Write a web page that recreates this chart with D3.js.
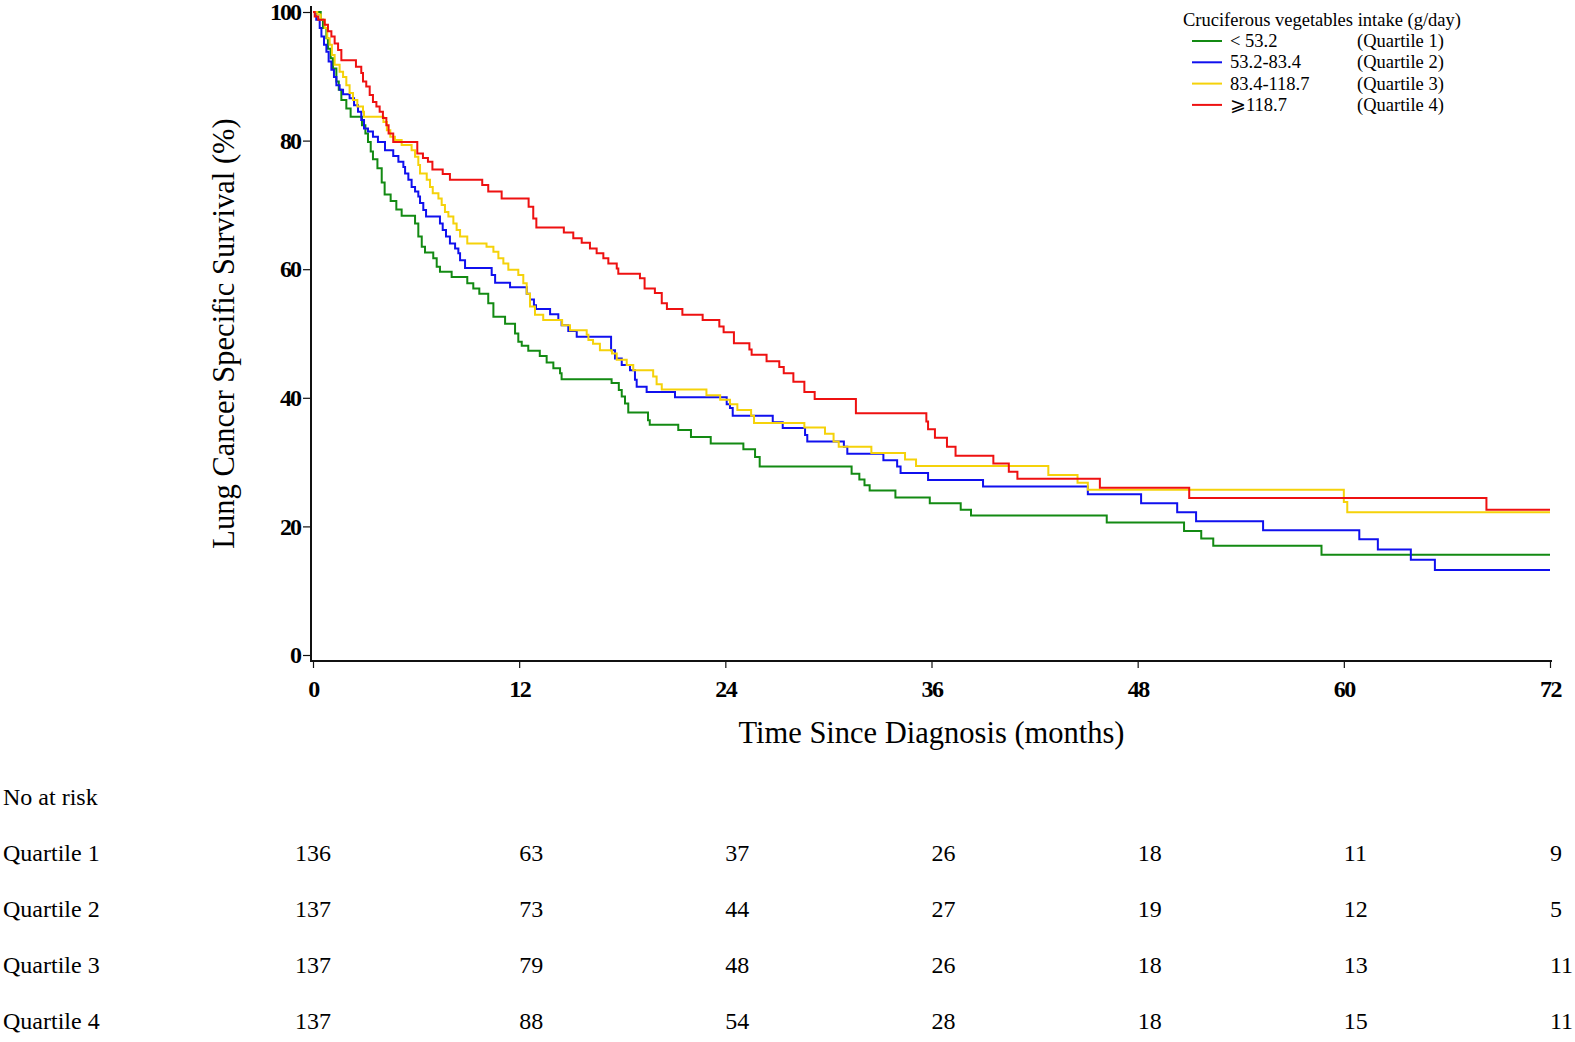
<!DOCTYPE html>
<html>
<head>
<meta charset="utf-8">
<script src="https://d3js.org/d3.v7.min.js"></script>
<style>
  body { margin: 0; background: #fff; }
  svg { display: block; }
</style>
</head>
<body>
<svg id="km" width="1575" height="1042"></svg>
<script>
// step points [month, survival %]
var q1 = [[0,100],[0.45,98.8],[0.58,97.5],[0.78,95.9],[0.87,94.3],[1.03,92.8],[1.16,91.2],[1.36,89.2],[1.5,87.9],[1.65,86.3],[1.94,85.0],[2.19,83.7],[2.85,82.4],[3.05,81.1],[3.2,79.8],[3.36,78.3],[3.49,77.1],[3.75,75.7],[4.0,73.5],[4.17,71.6],[4.52,70.6],[4.85,69.3],[5.16,68.3],[5.94,67.1],[6.13,65.1],[6.33,63.5],[6.52,62.6],[7.0,61.7],[7.2,60.4],[7.39,59.6],[8.07,58.8],[8.98,57.8],[9.33,57.0],[9.68,56.2],[10.2,54.7],[10.5,52.6],[11.18,51.5],[11.76,50.0],[11.95,48.7],[12.15,48.1],[12.53,47.3],[13.2,46.5],[13.6,45.5],[13.99,44.6],[14.38,43.8],[14.47,42.9],[17.38,42.3],[17.8,41.2],[17.97,40.2],[18.16,39.1],[18.35,37.7],[19.5,36.5],[19.6,35.8],[21.26,35.0],[22.0,33.9],[23.15,32.9],[25.05,32.0],[25.73,30.8],[26.0,29.3],[31.35,28.2],[31.8,27.3],[32.1,26.4],[32.4,25.6],[33.9,24.5],[35.9,23.6],[37.7,22.6],[38.3,21.7],[46.2,20.6],[50.7,19.3],[51.7,18.1],[52.4,17.0],[58.7,15.6],[72,15.6]];

var q2 = [[0,100],[0.19,98.8],[0.39,97.5],[0.49,96.2],[0.64,94.9],[0.78,93.8],[0.91,92.3],[1.07,91.0],[1.22,89.9],[1.36,88.6],[1.55,87.9],[1.75,87.2],[2.13,86.6],[2.39,85.5],[2.62,84.5],[2.81,83.2],[2.97,81.9],[3.2,81.4],[3.49,80.6],[3.78,79.8],[4.19,78.5],[4.67,77.6],[4.97,76.7],[5.26,75.9],[5.36,74.9],[5.55,73.9],[5.74,72.8],[5.94,72.1],[6.13,71.3],[6.23,70.3],[6.42,69.2],[6.58,68.2],[7.39,67.1],[7.55,66.1],[7.74,65.1],[7.97,64.0],[8.27,63.2],[8.46,62.5],[8.56,61.4],[8.85,60.2],[10.4,59.1],[10.6,57.9],[11.47,57.2],[12.44,56.2],[12.63,55.3],[12.86,54.4],[12.98,53.8],[13.8,53.0],[14.28,52.1],[14.47,51.3],[14.86,50.4],[15.35,49.5],[17.35,47.4],[17.58,46.1],[17.97,45.1],[18.45,44.3],[18.74,42.8],[18.84,41.7],[19.42,40.9],[21.07,40.1],[24.08,39.0],[24.27,38.4],[24.43,37.2],[26.76,36.2],[27.34,35.3],[28.64,34.2],[28.77,33.2],[30.9,32.4],[31.1,31.3],[33.2,30.3],[34.0,29.3],[34.2,28.3],[35.8,27.2],[39.0,26.2],[45.1,25.0],[48.2,23.6],[50.3,22.2],[51.4,20.8],[55.3,19.4],[60.9,18.0],[61.98,16.4],[63.9,14.8],[65.3,13.2],[72,13.2]];

var q3 = [[0,100],[0.25,99.6],[0.45,98.8],[0.68,97.5],[0.83,95.9],[0.97,94.9],[1.1,93.3],[1.26,91.8],[1.55,90.7],[1.75,89.9],[1.94,88.6],[2.13,87.4],[2.33,86.3],[2.58,85.3],[2.91,84.5],[2.97,83.7],[4.1,82.9],[4.3,81.6],[4.5,80.6],[4.77,80.1],[5.16,79.3],[5.74,78.5],[5.94,77.5],[6.13,76.2],[6.23,74.9],[6.62,73.9],[6.81,72.8],[6.97,71.8],[7.3,71.0],[7.49,70.0],[7.68,68.9],[7.88,68.2],[8.17,67.1],[8.36,66.1],[8.56,65.1],[8.98,64.0],[10.1,63.5],[10.5,62.7],[10.79,61.7],[11.08,60.9],[11.37,59.9],[11.95,59.1],[12.24,57.8],[12.44,56.2],[12.63,54.2],[12.92,52.9],[13.4,52.1],[14.5,51.3],[14.96,50.5],[15.93,49.8],[16.03,49.0],[16.3,48.4],[16.7,47.4],[17.4,46.9],[17.68,45.9],[18.26,45.1],[18.64,44.3],[19.8,43.3],[20.0,42.1],[20.3,41.3],[22.9,40.4],[23.7,39.7],[24.27,39.0],[24.7,38.1],[25.5,37.2],[25.67,36.1],[28.6,35.4],[29.8,34.4],[30.3,33.2],[30.6,32.4],[32.5,31.4],[34.46,30.4],[35.1,29.4],[42.8,28.0],[44.5,26.8],[45.1,25.7],[60.0,23.8],[60.2,22.2],[72,22.2]];

var q4 = [[0,100],[0.1,99.3],[0.3,98.8],[0.68,98.0],[0.87,97.0],[1.07,96.2],[1.26,95.1],[1.46,94.1],[1.65,92.5],[2.5,91.5],[2.81,90.5],[2.91,89.2],[3.1,88.4],[3.3,87.1],[3.49,86.0],[3.69,85.3],[3.88,84.5],[4.07,83.5],[4.27,82.4],[4.4,81.1],[4.67,79.8],[6.07,78.0],[6.4,77.3],[6.69,76.7],[6.95,75.5],[7.55,74.8],[7.97,73.9],[9.85,73.1],[10.2,72.1],[10.98,71.0],[12.55,69.7],[12.82,67.9],[13.0,66.5],[14.6,65.7],[15.15,64.8],[15.64,64.1],[16.12,63.2],[16.51,62.5],[16.9,61.7],[17.19,60.9],[17.68,60.1],[17.77,59.3],[19.03,58.6],[19.3,57.0],[19.9,56.3],[20.3,54.7],[20.6,53.8],[21.5,52.9],[22.68,52.1],[23.65,51.1],[23.9,50.2],[24.5,48.5],[25.4,47.5],[25.53,46.7],[26.4,45.7],[27.14,44.8],[27.4,43.8],[27.96,42.5],[28.6,40.9],[29.2,39.8],[31.6,37.6],[35.7,36.3],[35.8,35.1],[36.2,33.8],[36.9,32.4],[37.4,31.0],[39.6,29.8],[40.5,28.5],[41.0,27.4],[45.8,26.0],[51.0,24.4],[68.3,22.6],[72,22.6]];

var groups = ["Quartile 1", "Quartile 2", "Quartile 3", "Quartile 4"];
var ranges = ["< 53.2", "53.2-83.4", "83.4-118.7", "\u2A7E118.7"];
var colors = ["#138a13", "#1010ee", "#f5d20a", "#ee1111"];

var monthTicks = [0, 12, 24, 36, 48, 60, 72];
var survTicks = [0, 20, 40, 60, 80, 100];

var riskQ1 = [136, 63, 37, 26, 18, 11, 9];
var riskQ2 = [137, 73, 44, 27, 19, 12, 5];
var riskQ3 = [137, 79, 48, 26, 18, 13, 11];
var riskQ4 = [137, 88, 54, 28, 18, 15, 11];

var svg = d3.select("#km"),
    serif = "'Liberation Serif', 'Times New Roman', serif",
    axisY = 661;

var x = d3.scaleLinear().domain([0, 72]).range([313, 1550]);
var y = d3.scaleLinear().domain([0, 100]).range([655, 12]);

var xAxis = d3.axisBottom(x).tickValues(monthTicks).tickSize(7).tickSizeOuter(0);
var yAxis = d3.axisLeft(y).tickValues(survTicks).tickSize(8).tickSizeOuter(0);

svg.append("g")
    .attr("transform", "translate(0," + axisY + ")")
    .call(customXAxis);

svg.append("g")
    .attr("transform", "translate(311,0)")
    .call(customYAxis);

function customXAxis(g) {
  g.call(xAxis);
  g.select(".domain").remove();
  g.append("line")
      .attr("x1", 311).attr("x2", x(72) + 2)
      .attr("stroke", "#111").attr("stroke-width", 2);
  g.selectAll(".tick line").attr("stroke", "#111").attr("stroke-width", 1.2);
  g.selectAll(".tick text")
      .attr("y", 19).attr("fill", "#000")
      .attr("font-family", serif).attr("font-size", 24).attr("font-weight", "bold")
      .attr("letter-spacing", "-1.5");
}

function customYAxis(g) {
  g.call(yAxis);
  g.select(".domain").remove();
  g.append("line")
      .attr("y1", y(100) - 6).attr("y2", axisY + 1)
      .attr("stroke", "#111").attr("stroke-width", 2);
  g.selectAll(".tick line").attr("stroke", "#111").attr("stroke-width", 1.2);
  g.selectAll(".tick text")
      .attr("x", -11).attr("fill", "#000")
      .attr("font-family", serif).attr("font-size", 24).attr("font-weight", "bold")
      .attr("letter-spacing", "-2")
      .style("text-anchor", "end");
}

// axis titles
svg.append("text")
    .attr("x", x(36)).attr("y", 743)
    .attr("text-anchor", "middle")
    .attr("font-family", serif).attr("font-size", 30.5)
    .text("Time Since Diagnosis (months)");

svg.append("text")
    .attr("transform", "translate(234," + y(50) + ") rotate(-90)")
    .attr("text-anchor", "middle")
    .attr("font-family", serif).attr("font-size", 30.5)
    .text("Lung Cancer Specific Survival (%)");

// survival curves
var line = d3.line()
    .curve(d3.curveStepAfter)
    .x(function(d) { return x(d[0]); })
    .y(function(d) { return y(d[1]); });

svg.selectAll("path.km")
    .data([q1, q2, q3, q4])
  .enter().append("path")
    .attr("class", "km")
    .attr("fill", "none")
    .attr("stroke", function(d, i) { return colors[i]; })
    .attr("stroke-width", 2)
    .attr("d", line);

// legend
var legend = svg.append("g").attr("font-family", serif).attr("font-size", 18.5);

legend.append("text")
    .attr("x", 1183).attr("y", 26)
    .text("Cruciferous vegetables intake (g/day)");

var rows = legend.selectAll("g.row")
    .data(groups)
  .enter().append("g")
    .attr("class", "row")
    .attr("transform", function(d, i) { return "translate(0," + (41 + i * 21.3) + ")"; });

rows.append("line")
    .attr("x1", 1192).attr("x2", 1222)
    .attr("stroke", function(d, i) { return colors[i]; })
    .attr("stroke-width", 2);

rows.append("text")
    .attr("x", 1230).attr("y", 6)
    .text(function(d, i) { return ranges[i]; });

rows.append("text")
    .attr("x", 1357).attr("y", 6)
    .text(function(d) { return "(" + d + ")"; });

// number at risk table
var risk = svg.append("g").attr("font-family", serif).attr("font-size", 24);

risk.append("text")
    .attr("x", 3).attr("y", 805)
    .text("No at risk");

var riskRows = risk.selectAll("g.risk")
    .data([riskQ1, riskQ2, riskQ3, riskQ4])
  .enter().append("g")
    .attr("class", "risk")
    .attr("transform", function(d, i) { return "translate(0," + (861 + i * 56) + ")"; });

riskRows.append("text")
    .attr("x", 3)
    .text(function(d, i) { return groups[i]; });

riskRows.selectAll("text.n")
    .data(function(d) { return d; })
  .enter().append("text")
    .attr("class", "n")
    .attr("x", function(d, i) { return x(monthTicks[i]); })
    .attr("text-anchor", function(d, i) { return i === 0 ? "middle" : "start"; })
    .text(function(d) { return d; });
</script>
</body>
</html>
